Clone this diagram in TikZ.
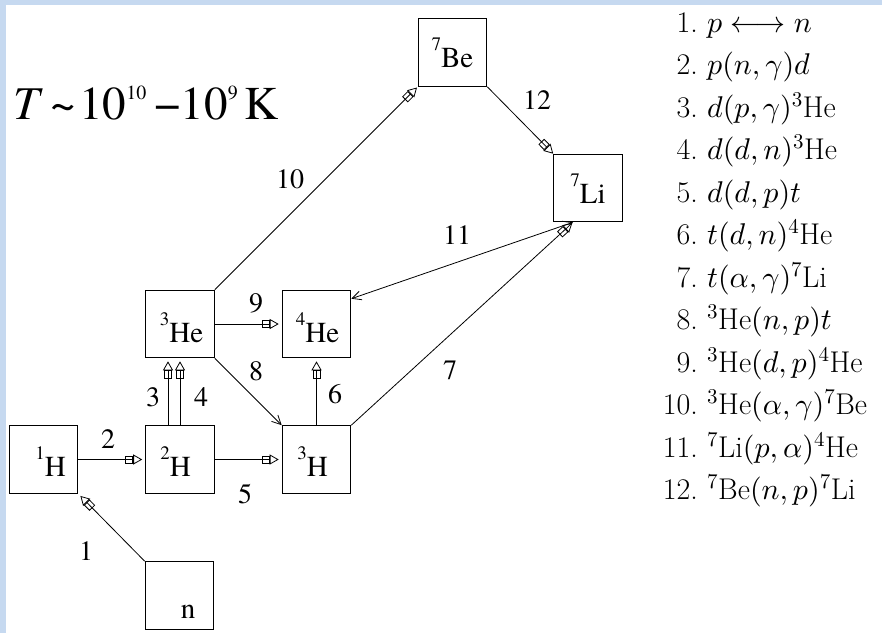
\documentclass[tikz,border=0pt]{standalone}
\usepackage{fontspec}
\DeclareFontShape{OML}{cmm}{m}{it}{<->cmmi10}{}
\DeclareFontShape{OT1}{cmr}{m}{n}{<->cmr10}{}
\DeclareFontShape{OMS}{cmsy}{m}{n}{<->cmsy10}{}
\DeclareFontShape{OMX}{cmex}{m}{n}{<->cmex10}{}
\IfFontExistsTF{texgyretermes-regular.otf}
  {\newfontfamily\timesfont{texgyretermes}[Extension=.otf,UprightFont=*-regular,ItalicFont=*-italic,BoldFont=*-bold]}
  {\newfontfamily\timesfont{Liberation Serif}}
\usetikzlibrary{arrows.meta,calc}
\definecolor{frameblue}{RGB}{198,217,240}
\newcommand\isoX[2]{\raisebox{17pt}{\fontsize{19}{19}\selectfont #1}#2}
\newcommand\boxtxt[2]{\makebox[0pt]{\hspace{#1}#2}}
\newcommand\supX[1]{\raisebox{20pt}{\fontsize{20}{20}\selectfont #1}}
\begin{document}
\begin{tikzpicture}[x=1pt,y=-1pt,
  box/.style={draw, line width=1.1pt, minimum width=68.5pt, minimum height=67.5pt,
    inner sep=0pt, text depth=0pt, text height=33pt, font=\timesfont\fontsize{29}{29}\selectfont},
  lab/.style={font=\timesfont\fontsize{28}{28}\selectfont, anchor=base, inner sep=0pt},
  conn/.style={line width=0.8pt},
  oa/.style={conn, -{Rectangle[open,length=8pt,width=8pt] Triangle[open,length=9pt,width=10pt]}, shorten >=3pt},
  ba/.style={conn, -{Straight Barb[length=9pt,width=9pt]}},
  num/.style={font=\fontsize{30}{30}\selectfont, anchor=base east, inner sep=0pt},
  itm/.style={font=\fontsize{30}{30}\selectfont, anchor=base west, inner sep=0pt}]
\useasboundingbox (0,0) rectangle (882,633);
\fill[white] (0,0) rectangle (882,633);
\fill[frameblue] (0,0) rectangle (882,5);
\fill[frameblue] (0,0) rectangle (6,633);

% title
\node[anchor=base west, inner sep=0pt, font=\timesfont\fontsize{47}{47}\selectfont] (title) at (13,119)
  {\textit{T}\hspace{8pt}\symbol{126}\hspace{3pt}10\supX{10}\hspace{8pt}−10\supX{9}\hspace{7pt}K};

% boxes
\node[box] (H1) at (43.5,459.5) {\boxtxt{14pt}{\isoX{1}{H}}};
\node[box] (H2) at (180,459.5) {\boxtxt{-9pt}{\isoX{2}{H}}};
\node[box] (H3) at (316.5,459.5) {\boxtxt{-8pt}{\isoX{3}{H}}};
\node[box, text height=36pt] (He3) at (180,324) {\boxtxt{3pt}{\isoX{3}{He}}};
\node[box, text height=36pt] (He4) at (316.5,324) {\boxtxt{2pt}{\isoX{4}{He}}};
\node[box, text height=29pt] (Be7) at (452.5,52.5) {\boxtxt{0pt}{\isoX{7}{Be}}};
\node[box, text height=30pt] (Li7) at (588,188) {\boxtxt{0pt}{\isoX{7}{Li}}};
\node[box, text height=45pt] (n) at (179.5,595.5) {\boxtxt{17pt}{n}};

% connectors
\draw[oa] (n.north west) -- (H1.south east);
\draw[oa] (H1.east) -- (H2.west);
\draw[oa] ([xshift=-12pt]H2.north) -- ([xshift=-12pt]He3.south);
\draw[oa] (H2.north) -- (He3.south);
\draw[oa] (H2.east) -- (H3.west);
\draw[oa] (H3.north) -- (He4.south);
\draw[oa, shorten >=1pt] (H3.north east) -- ([xshift=-15pt]Li7.south);
\draw[ba] (He3.south east) -- (H3.north west);
\draw[oa] (He3.east) -- (He4.west);
\draw[oa, shorten >=1pt] (He3.north east) -- (Be7.south west);
\draw[conn, {Straight Barb[length=9pt,width=9pt]}-{Straight Barb[length=9pt,width=9pt]}]
  ([yshift=-9pt]He4.north east) -- ([xshift=-15pt]Li7.south);
\draw[oa, shorten >=0pt] (Be7.south east) -- (Li7.north west);

% labels
\node[lab] (l1) at (86,560) {1};
\node[lab] (l2) at (108,448) {2};
\node[lab] (l3) at (153,406) {3};
\node[lab] (l4) at (201,406) {4};
\node[lab] (l5) at (245,503) {5};
\node[lab] (l6) at (335,403) {6};
\node[lab] (l7) at (450,379) {7};
\node[lab] (l8) at (256,380) {8};
\node[lab] (l9) at (256,312) {9};
\node[lab] (l10) at (290,188) {10};
\node[lab] (l11) at (457,244) {11};
\node[lab] (l12) at (537,109) {12};

% reaction list
\node[num] (n1) at (698,32) {1.};
\node[itm] (r1) at (707,32) {$p \longleftrightarrow n$};
\node[num] (n2) at (698,74.5) {2.};
\node[itm] (r2) at (707,74.5) {$p(n,\gamma)d$};
\node[num] (n3) at (698,117) {3.};
\node[itm] (r3) at (707,117) {$d(p,\gamma)^3$He};
\node[num] (n4) at (698,159.5) {4.};
\node[itm] (r4) at (707,159.5) {$d(d,n)^3$He};
\node[num] (n5) at (698,202) {5.};
\node[itm] (r5) at (707,202) {$d(d,p)t$};
\node[num] (n6) at (698,244.5) {6.};
\node[itm] (r6) at (707,244.5) {$t(d,n)^4$He};
\node[num] (n7) at (698,287) {7.};
\node[itm] (r7) at (707,287) {$t(\alpha,\gamma)^7$Li};
\node[num] (n8) at (698,329.5) {8.};
\node[itm] (r8) at (707,329.5) {$^3$He$(n,p)t$};
\node[num] (n9) at (698,372) {9.};
\node[itm] (r9) at (707,372) {$^3$He$(d,p)^4$He};
\node[num] (n10) at (698,414.5) {10.};
\node[itm] (r10) at (707,414.5) {$^3$He$(\alpha,\gamma)^7$Be};
\node[num] (n11) at (698,457) {11.};
\node[itm] (r11) at (707,457) {$^7$Li$(p,\alpha)^4$He};
\node[num] (n12) at (698,499.5) {12.};
\node[itm] (r12) at (707,499.5) {$^7$Be$(n,p)^7$Li};
\end{tikzpicture}
\end{document}
